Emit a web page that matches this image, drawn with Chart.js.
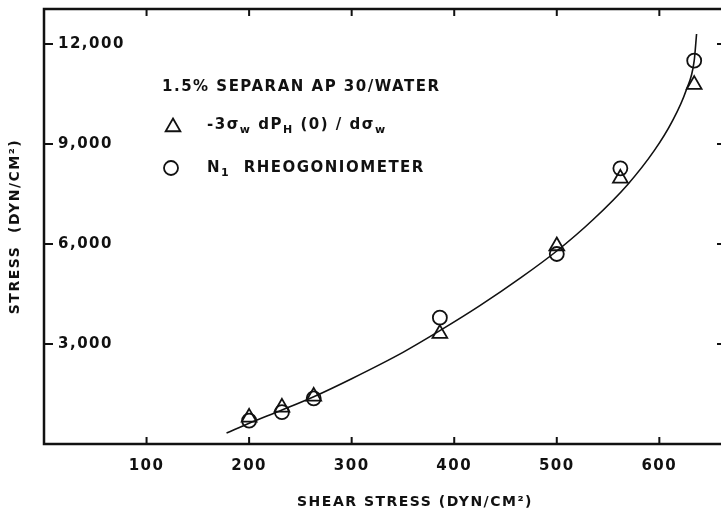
<!DOCTYPE html>
<html>
<head>
<meta charset="utf-8">
<script src="https://cdn.jsdelivr.net/npm/chart.js@4.4.1/dist/chart.umd.min.js"></script>
<style>
  html, body { margin: 0; padding: 0; background: #fff; overflow: hidden; }
  #wrap { width: 730px; height: 515px; }
</style>
</head>
<body>
<div id="wrap"><canvas id="chart" width="730" height="515"></canvas></div>
<script>
// data
const shearX = [200, 232, 263, 386, 500, 562, 634];
const holePressure = [800, 1100, 1430, 3310, 5940, 7970, 10780];   // triangles
const rheogoniometer = [700, 955, 1370, 3790, 5700, 8270, 11500];   // circles
const curveX = [178, 200, 232, 263, 300, 350, 386, 425, 465, 500, 535, 569, 595, 612, 626, 634, 636.3];
const curveY = [330, 620, 1020, 1420, 1960, 2750, 3400, 4150, 4990, 5790, 6720, 7780, 8800, 9650, 10600, 11500, 12300];
const xTicks = [100, 200, 300, 400, 500, 600];
const yTicks = [3000, 6000, 9000, 12000];

const FONT = '"DejaVu Sans", sans-serif';
const INK = '#111';

const pts = (xs, ys) => xs.map((x, i) => ({ x: x, y: ys[i] }));

// draws text pieces with subscripts, left to right
function richText(ctx, parts, x, y) {
  parts.forEach(p => {
    ctx.font = p.sub ? 'bold 11px ' + FONT : 'bold 15px ' + FONT;
    ctx.fillText(p.t, x, p.sub ? y + 5 : y);
    x += ctx.measureText(p.t).width;
  });
}

// no auto padding from tick labels, so the plot box stays where we put it
function noPad(s) {
  s.paddingLeft = 0; s.paddingRight = 0; s.paddingTop = 0; s.paddingBottom = 0;
}

const framePlugin = {
  id: 'frame',
  beforeDraw(chart) {
    chart.ctx.letterSpacing = '1.5px';
  },
  beforeDatasetsDraw(chart) {
    const { ctx, chartArea: a, scales: { x, y } } = chart;
    ctx.save();
    ctx.strokeStyle = INK;
    ctx.lineWidth = 2.5;
    ctx.strokeRect(a.left, a.top, a.right - a.left, a.bottom - a.top);

    // inward tick marks on all four sides
    ctx.lineWidth = 2;
    ctx.beginPath();
    xTicks.forEach(v => {
      const px = x.getPixelForValue(v);
      ctx.moveTo(px, a.bottom); ctx.lineTo(px, a.bottom - 7);
      ctx.moveTo(px, a.top); ctx.lineTo(px, a.top + 7);
    });
    yTicks.forEach(v => {
      const py = y.getPixelForValue(v);
      ctx.moveTo(a.left, py); ctx.lineTo(a.left + 9, py);
      ctx.moveTo(a.right, py); ctx.lineTo(a.right - 9, py);
    });
    ctx.stroke();

    // legend block inside the plot
    const ds = chart.data.datasets;
    ctx.lineWidth = 1.8;
    ctx.fillStyle = 'rgba(0,0,0,0)';
    Chart.helpers.drawPoint(ctx, { pointStyle: ds[0].pointStyle, radius: ds[0].pointRadius, borderWidth: 1.8 }, 173, 127);
    Chart.helpers.drawPoint(ctx, { pointStyle: ds[1].pointStyle, radius: ds[1].pointRadius, borderWidth: 1.8 }, 171, 168);

    ctx.fillStyle = INK;
    ctx.textBaseline = 'middle';
    ctx.textAlign = 'left';
    ctx.font = 'bold 15px ' + FONT;
    ctx.fillText('1.5% SEPARAN AP 30/WATER', 162, 87);

    richText(ctx, [
      { t: '-3' }, { t: 'σ' }, { t: 'w', sub: true }, { t: ' dP' }, { t: 'H', sub: true },
      { t: ' (0) / d' }, { t: 'σ' }, { t: 'w', sub: true }
    ], 207, 125);
    richText(ctx, [{ t: 'N' }, { t: '1', sub: true }, { t: '  RHEOGONIOMETER' }], 207, 168);

    // x axis title
    ctx.font = 'bold 14px ' + FONT;
    ctx.textAlign = 'center';
    ctx.fillText('SHEAR STRESS (DYN/CM²)', 415, 502);
    ctx.restore();
  }
};

new Chart(document.getElementById('chart'), {
  type: 'scatter',
  data: {
    datasets: [
      {
        label: '-3σw dPH(0)/dσw',
        data: pts(shearX, holePressure),
        pointStyle: 'triangle',
        pointRadius: 8.5,
        borderWidth: 1.8,
        borderColor: INK,
        backgroundColor: 'rgba(0,0,0,0)'
      },
      {
        label: 'N1 rheogoniometer',
        data: pts(shearX, rheogoniometer),
        pointStyle: 'circle',
        pointRadius: 7,
        borderWidth: 1.8,
        borderColor: INK,
        backgroundColor: 'rgba(0,0,0,0)'
      },
      {
        label: 'fit',
        data: pts(curveX, curveY),
        showLine: true,
        pointRadius: 0,
        borderWidth: 1.6,
        borderColor: INK,
        cubicInterpolationMode: 'monotone'
      }
    ]
  },
  options: {
    responsive: false,
    animation: false,
    devicePixelRatio: 1,
    layout: { autoPadding: false, padding: { top: 9, right: 4, left: 0, bottom: 0 } },
    plugins: { legend: { display: false }, tooltip: { enabled: false } },
    scales: {
      x: {
        type: 'linear',
        min: 0,
        max: 665,
        afterBuildTicks: s => { s.ticks = xTicks.map(v => ({ value: v })); },
        afterFit: s => { s.height = 71; noPad(s); },
        grid: { display: false, drawTicks: false },
        border: { display: false },
        ticks: {
          color: INK,
          padding: 13,
          font: { family: FONT, size: 15, weight: 'bold' }
        }
      },
      y: {
        type: 'linear',
        min: 0,
        max: 13050,
        afterBuildTicks: s => { s.ticks = yTicks.map(v => ({ value: v })); },
        afterFit: s => { s.width = 44; noPad(s); },
        grid: { display: false, drawTicks: false },
        border: { display: false },
        ticks: {
          color: INK,
          mirror: true,
          padding: 14,
          font: { family: FONT, size: 15, weight: 'bold' },
          callback: v => v.toLocaleString('en-US')
        },
        title: {
          display: true,
          text: 'STRESS  (DYN/CM²)',
          color: INK,
          padding: { top: 7, bottom: 0 },
          font: { family: FONT, size: 14, weight: 'bold' }
        }
      }
    }
  },
  plugins: [framePlugin]
});
</script>
</body>
</html>
